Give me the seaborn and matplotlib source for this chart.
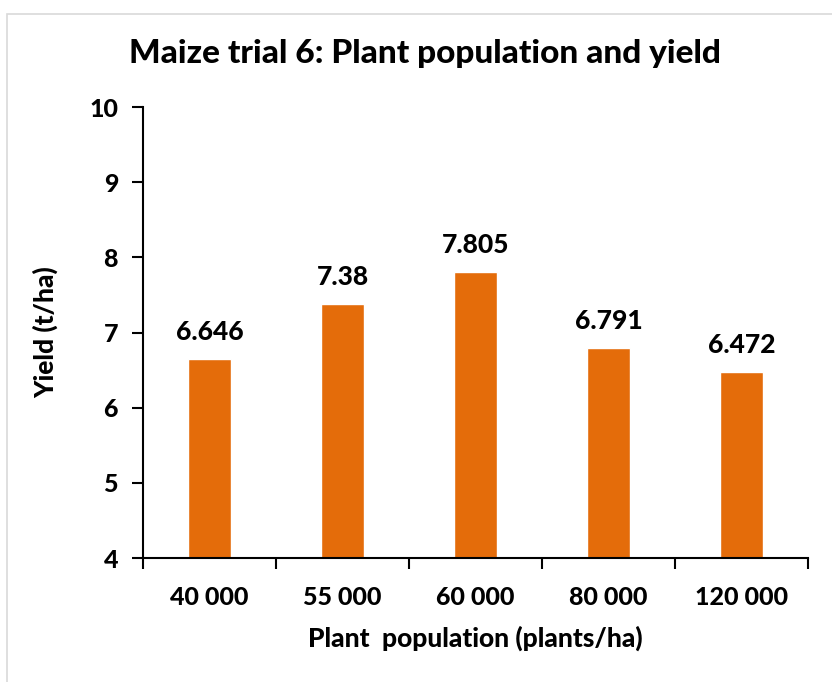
import numpy as np
import pandas as pd
import matplotlib
matplotlib.use("Agg")
import matplotlib.pyplot as plt
import seaborn as sns
from matplotlib.patches import Rectangle

# data
populations = ["40 000", "55 000", "60 000", "80 000", "120 000"]
yields = [6.646, 7.38, 7.805, 6.791, 6.472]
value_labels = ["6.646", "7.38", "7.805", "6.791", "6.472"]

df = pd.DataFrame({"population": populations, "yield": yields})

sns.set_theme(style="white")
plt.rcParams["font.family"] = ["Lato", "DejaVu Sans"]
W = "black"  # heaviest weight, Calibri bold looks heavy

fig = plt.figure(figsize=(8.32, 6.82), dpi=100)
ax = fig.add_axes([0.1719, 0.1818, 0.7991, 0.6613])

sns.barplot(data=df, x="population", y="yield", color="#E46C0A",
            saturation=1, width=0.32, ax=ax)

ax.set_ylim(4, 10)
ax.set_xlim(-0.5, len(populations) - 0.5)
ax.set_yticks(np.arange(4, 11, 1))
ax.set_yticklabels([str(t) for t in range(4, 11)], fontsize=18, fontweight=W, color="black")
ax.set_xticks(range(len(populations)))
ax.set_xticklabels(populations, fontsize=18, fontweight=W, color="black")

for i, (v, lab) in enumerate(zip(yields, value_labels)):
    ax.text(i, v + 0.2, lab, ha="center", va="bottom",
            fontsize=19, fontweight=W, color="black")

# Excel-style ticks between categories
ax.set_xticks(np.arange(-0.5, len(populations), 1), minor=True)
ax.tick_params(axis="x", which="major", length=0, pad=20)
ax.tick_params(axis="x", which="minor", length=8, width=1.5, direction="out",
               color="black", bottom=True)
ax.tick_params(axis="y", which="major", length=8, width=1.5, direction="out",
               color="black", pad=10, left=True)

for s in ["top", "right"]:
    ax.spines[s].set_visible(False)
for s in ["left", "bottom"]:
    ax.spines[s].set_color("black")
    ax.spines[s].set_linewidth(1.5)

ax.set_xlabel("Plant  population (plants/ha)", fontsize=19, fontweight=W,
              color="black", labelpad=12)
ax.set_ylabel("Yield (t/ha)", fontsize=19, fontweight=W, color="black", labelpad=22)

fig.text(0.511, 0.921, "Maize trial 6: Plant population and yield", ha="center", va="center",
         fontsize=24, fontweight=W, color="black")

# light chart border
fig.patches.append(Rectangle((0.009, -0.01), 1.2, 0.99, transform=fig.transFigure,
                             fill=False, edgecolor="#D9D9D9", linewidth=1.2))

fig.savefig("out.png", dpi=100)
